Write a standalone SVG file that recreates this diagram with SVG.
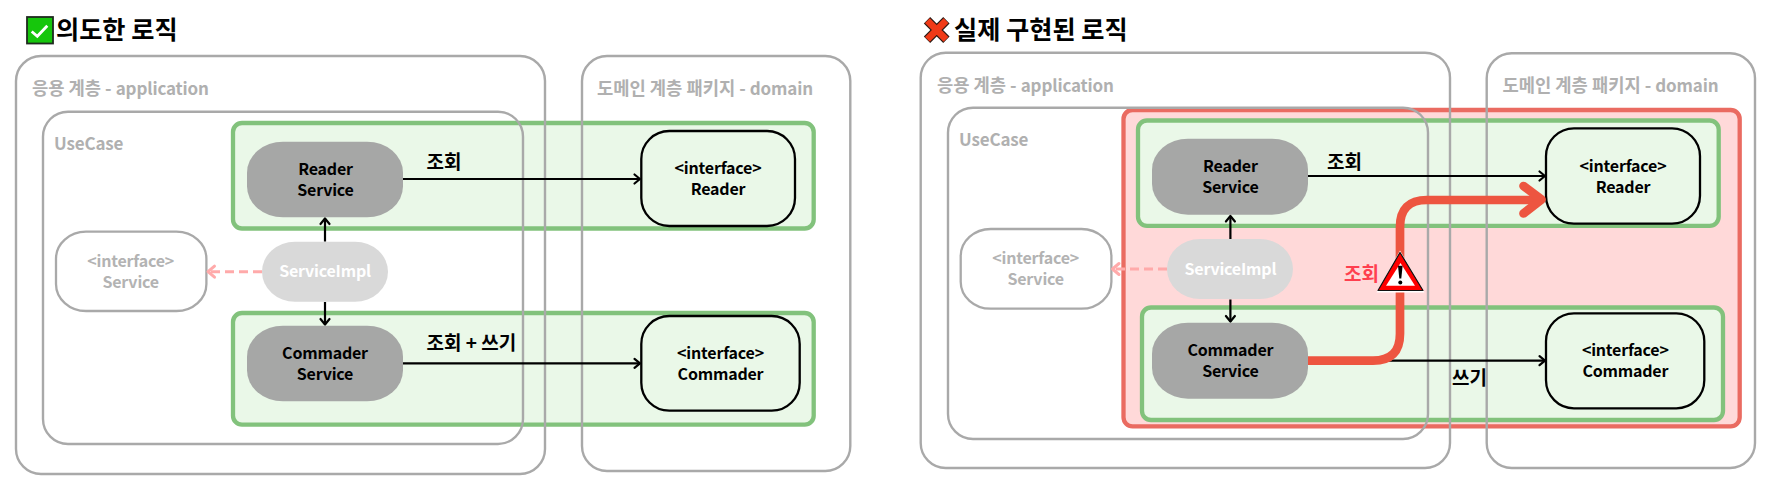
<svg xmlns="http://www.w3.org/2000/svg" width="1771" height="485" viewBox="0 0 1771 485">
<style>
text{font-family:"Noto Sans CJK KR","Noto Sans",sans-serif;font-weight:700;fill:#000}
.title{font-size:25.200px}
.pkg{font-size:17.700px;fill:#b0b0b0}
.lat{font-size:17px;letter-spacing:-.15px}
.lbl{font-size:19px}
.warn{font-size:19px;fill:#ff3f4f}
.n{font-size:16px;letter-spacing:-.2px;text-anchor:middle}
.faint{fill:#b3b3b3}
.w{fill:#fff}
.box{fill:none;stroke:#a9a9a9;stroke-width:2.4}
.group{fill:#eaf8e8;stroke:#82c27c;stroke-width:4.3}
.risk{fill:#ffd9d9;stroke:#ea6b61;stroke-width:4.3}
.svc{fill:#a6a7a6}
.impl{fill:#d9d9d9}
.if{fill:none;stroke:#000;stroke-width:2.3}
.ifg{fill:#fff;stroke:#a9a9a9;stroke-width:2.3}
.c{fill:none;stroke:#000;stroke-width:2.2;marker-end:url(#a)}
.d{fill:none;stroke:#ffaaaa;stroke-width:3;stroke-dasharray:9 5;marker-end:url(#p)}
</style>
<defs>
<marker id="a" markerUnits="userSpaceOnUse" markerWidth="12" markerHeight="14" refX="9" refY="7" orient="auto"><path d="M3.5 2.5L9 7L3.5 11.500" fill="none" stroke="#000" stroke-width="2.2" stroke-linecap="round" stroke-linejoin="round"/></marker>
<marker id="p" markerUnits="userSpaceOnUse" markerWidth="14" markerHeight="16" refX="10" refY="8" orient="auto"><path d="M3.500 2.500L10 8L3.500 13.500" fill="none" stroke="#ffaaaa" stroke-width="3" stroke-linecap="round" stroke-linejoin="round"/></marker>
</defs>
<rect width="1771" height="485" fill="#fff"/>

<g id="left-title">
<rect x="27" y="17" width="26" height="26.500" fill="#16c60c" stroke="#1f2a1f" stroke-width="1.800"/>
<path d="M31.700 31.500L37.300 36.300L47.300 25.700" fill="none" stroke="#fff" stroke-width="2.800"/>
<text class="title" x="56" y="39">의도한 로직</text>
</g>
<g id="right-title">
<path d="M927 20.300L946.400 39.700M946.400 20.300L927 39.700" fill="none" stroke="#2a1a14" stroke-width="9"/>
<path d="M927.400 20.700L946 39.300M946 20.700L927.400 39.300" fill="none" stroke="#f03a17" stroke-width="6.800"/>
<text class="title" x="954" y="39">실제 구현된 로직</text>
</g>

<rect id="risk-area" class="risk" x="1123.500" y="110" width="616.200" height="316.300" rx="9"/>
<g id="left-groups">
<rect class="group" x="233" y="123" width="580.700" height="105.500" rx="9"/>
<rect class="group" x="233" y="313" width="580.700" height="111.700" rx="9"/>
</g>
<g id="right-groups">
<rect class="group" x="1138" y="120.500" width="580.700" height="105.300" rx="9"/>
<rect class="group" x="1142" y="307.500" width="581" height="112.500" rx="9"/>
</g>

<g id="left-application"><rect class="box" x="16" y="56" width="529" height="418" rx="25"/><text class="pkg" x="32" y="95">응용 계층 - <tspan class="lat">application</tspan></text></g>
<g id="left-usecase"><rect class="box" x="43" y="111.700" width="480" height="332.300" rx="25"/><text class="pkg lat" x="54" y="150">UseCase</text></g>
<g id="left-domain"><rect class="box" x="582" y="56" width="268.300" height="415" rx="25"/><text class="pkg" x="597" y="95">도메인 계층 패키지 - <tspan class="lat">domain</tspan></text></g>
<g id="right-application"><rect class="box" x="920.700" y="52.700" width="529.300" height="415.300" rx="25"/><text class="pkg" x="937" y="91.700">응용 계층 - <tspan class="lat">application</tspan></text></g>
<g id="right-usecase"><rect class="box" x="948" y="107.700" width="480" height="331.300" rx="25"/><text class="pkg lat" x="959" y="145.700">UseCase</text></g>
<g id="right-domain"><rect class="box" x="1486.700" y="53.300" width="268.300" height="414.700" rx="25"/><text class="pkg" x="1502.500" y="91.700">도메인 계층 패키지 - <tspan class="lat">domain</tspan></text></g>

<g id="left-reader-service"><rect class="svc" x="247" y="141.700" width="156" height="75.600" rx="36" ry="31"/><text class="n" x="325.500" y="175">Reader</text><text class="n" x="325.500" y="196">Service</text></g>
<g id="left-commander-service"><rect class="svc" x="247" y="325.700" width="156" height="75.600" rx="36" ry="31"/><text class="n" x="325" y="359">Commader</text><text class="n" x="325" y="380">Service</text></g>
<g id="left-service-impl"><rect class="impl" x="262" y="241.700" width="126" height="60" rx="33" ry="30"/><text class="n w" x="325" y="277">ServiceImpl</text></g>
<g id="left-service"><rect class="ifg" x="56" y="231.700" width="150.400" height="79.300" rx="30" ry="27"/><text class="n faint" x="130.700" y="266.700">&lt;interface&gt;</text><text class="n faint" x="130.700" y="287.700">Service</text></g>
<g id="left-reader"><rect class="if" x="641.300" y="131" width="153.700" height="95" rx="28"/><text class="n" x="718" y="174">&lt;interface&gt;</text><text class="n" x="718" y="195">Reader</text></g>
<g id="left-commander"><rect class="if" x="641.300" y="316" width="158.400" height="94.700" rx="28"/><text class="n" x="720.500" y="359">&lt;interface&gt;</text><text class="n" x="720.500" y="380">Commader</text></g>

<g id="right-reader-service"><rect class="svc" x="1152" y="138.700" width="156" height="76" rx="36" ry="31"/><text class="n" x="1230.400" y="172">Reader</text><text class="n" x="1230.400" y="193">Service</text></g>
<g id="right-commander-service"><rect class="svc" x="1152" y="322.700" width="156" height="76" rx="36" ry="31"/><text class="n" x="1230.400" y="356">Commader</text><text class="n" x="1230.400" y="377">Service</text></g>
<g id="right-service-impl"><rect class="impl" x="1167" y="239" width="126" height="60" rx="33" ry="30"/><text class="n w" x="1230.400" y="275">ServiceImpl</text></g>
<g id="right-service"><rect class="ifg" x="960.700" y="229" width="150.700" height="79.700" rx="30" ry="27"/><text class="n faint" x="1035.700" y="264">&lt;interface&gt;</text><text class="n faint" x="1035.700" y="285">Service</text></g>
<g id="right-reader"><rect class="if" x="1546" y="128.300" width="154" height="95.400" rx="28"/><text class="n" x="1623" y="172">&lt;interface&gt;</text><text class="n" x="1623" y="193">Reader</text></g>
<g id="right-commander"><rect class="if" x="1546" y="313.300" width="158.300" height="95" rx="28"/><text class="n" x="1625.300" y="356">&lt;interface&gt;</text><text class="n" x="1625.300" y="377">Commader</text></g>

<g id="connectors">
<path class="c" d="M325 241.500V218.500"/>
<path class="c" d="M325 302V324.500"/>
<path class="d" d="M262 271.700H208"/>
<path class="c" d="M403 179H640"/>
<path class="c" d="M403 363.400H640"/>
<path class="c" d="M1230.400 239V216"/>
<path class="c" d="M1230.400 299.500V321.500"/>
<path class="d" d="M1167 269H1112.500"/>
<path class="c" d="M1308 176H1545"/>
<path class="c" d="M1308 360.700H1545"/>
<path d="M1308 360.700H1373Q1400 360.700 1400 333.700V227Q1400 200 1427 200H1540" fill="none" stroke="#ed5540" stroke-width="8.700"/>
<path d="M1523.500 186L1541.500 199.500L1523.500 213.500" fill="none" stroke="#ed5540" stroke-width="8.700" stroke-linecap="round" stroke-linejoin="round"/>
</g>

<g id="edge-labels">
<text class="lbl" x="426.500" y="169">조회</text>
<text class="lbl" x="426.500" y="350">조회 + 쓰기</text>
<text class="lbl" x="1327" y="169">조회</text>
<text class="lbl" x="1452" y="385">쓰기</text>
<text class="warn" x="1344" y="281">조회</text>
</g>

<g id="warning">
<path d="M1400 250.500L1424.500 292.500H1376.500Z" fill="#fff"/>
<path d="M1400 252.500L1423 290.500H1378Z" fill="#ff0000" stroke="#111" stroke-width="1.200" stroke-linejoin="round"/>
<path d="M1400.500 263L1415 285.700H1386Z" fill="#fff"/>
<path d="M1398 265.700H1402.600L1401.300 278.500H1399.300Z" fill="#000"/>
<circle cx="1400.300" cy="282.500" r="2" fill="#000"/>
</g>
</svg>
